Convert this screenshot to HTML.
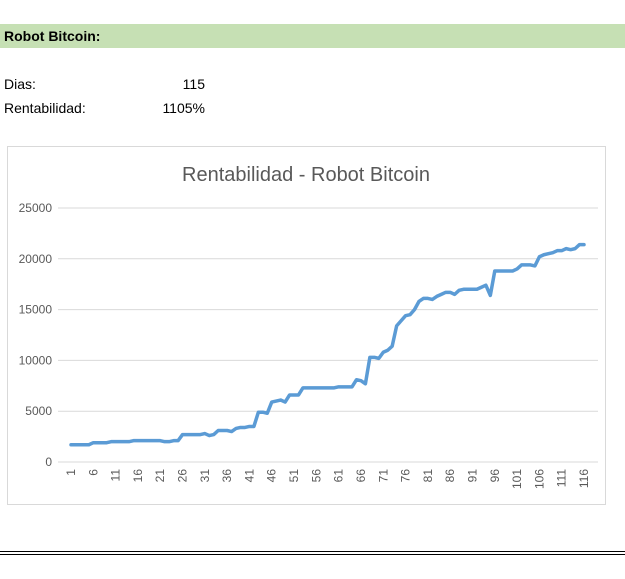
<!DOCTYPE html>
<html><head><meta charset="utf-8"><style>
body{margin:0;width:625px;height:579px;background:#fff;font-family:"Liberation Sans",sans-serif;position:relative;overflow:hidden}
.abs{position:absolute}
</style></head><body>
<div class="abs" style="left:0;top:24px;width:625px;height:24px;background:#c6e0b4"></div>
<div class="abs" style="left:4px;top:28px;font-size:14px;font-weight:bold;color:#000">Robot Bitcoin:</div>
<div class="abs" style="left:4px;top:76px;font-size:14px">Dias:</div>
<div class="abs" style="left:150px;width:55px;text-align:right;top:76px;font-size:14px">115</div>
<div class="abs" style="left:4px;top:100px;font-size:14px">Rentabilidad:</div>
<div class="abs" style="left:140px;width:65px;text-align:right;top:100px;font-size:14px">1105%</div>
<div class="abs" style="left:0;top:551px;width:625px;height:1px;background:#000"></div>
<div class="abs" style="left:0;top:554px;width:625px;height:1px;background:#000"></div>
<svg class="abs" style="left:0;top:0" width="625" height="579" id="chart">
<rect x="7.5" y="146.5" width="598" height="358" fill="#fff" stroke="#d9d9d9"/>
<text x="306" y="181" text-anchor="middle" font-size="20" fill="#595959" font-family="Liberation Sans, sans-serif">Rentabilidad - Robot Bitcoin</text>
</svg>
<script>
const values=[1700,1700,1700,1700,1700,1900,1900,1900,1900,2000,2000,2000,2000,2000,2100,2100,2100,2100,2100,2100,2100,2000,2000,2100,2100,2700,2700,2700,2700,2700,2800,2600,2700,3100,3100,3100,3000,3300,3400,3400,3500,3500,4900,4900,4800,5900,6000,6100,5900,6600,6600,6600,7300,7300,7300,7300,7300,7300,7300,7300,7400,7400,7400,7400,8100,8000,7700,10300,10300,10200,10800,11000,11400,13400,13900,14400,14500,15000,15800,16100,16100,16000,16300,16500,16700,16700,16500,16900,17000,17000,17000,17000,17200,17400,16400,18800,18800,18800,18800,18800,19000,19400,19400,19400,19300,20200,20400,20500,20600,20800,20800,21000,20900,21000,21400,21400];
const yTicks=[0,5000,10000,15000,20000,25000];
const svg=document.getElementById('chart');const NS='http://www.w3.org/2000/svg';
const x0=58,x1=598,y0=462,y1=208,ymax=25000,n=values.length;
const xs=i=>71+(584-71)*i/(n-1);
const ys=v=>y0-(y0-y1)*v/ymax;
yTicks.forEach(t=>{
 const l=document.createElementNS(NS,'line');
 
 
 l.setAttribute('x1',x0);l.setAttribute('x2',x1);l.setAttribute('y1',ys(t));l.setAttribute('y2',ys(t));
 l.setAttribute('stroke','#d9d9d9');svg.appendChild(l);
 const tx=document.createElementNS(NS,'text');
 
 
 tx.setAttribute('x',52);tx.setAttribute('y',ys(t)+4);tx.setAttribute('text-anchor','end');
 tx.setAttribute('font-size','12');tx.setAttribute('fill','#595959');tx.textContent=t;svg.appendChild(tx);
});
for(let i=0;i<n;i+=5){
 const tx=document.createElementNS(NS,'text');
 
 
 const x=xs(i);
 tx.setAttribute('transform','translate('+(x+4)+',469) rotate(-90)');
 tx.setAttribute('text-anchor','end');tx.setAttribute('font-size','12');tx.setAttribute('fill','#595959');
 tx.textContent=i+1;svg.appendChild(tx);
}
const p=document.createElementNS(NS,'polyline');


p.setAttribute('points',values.map((v,i)=>xs(i)+','+ys(v)).join(' '));
p.setAttribute('fill','none');p.setAttribute('stroke','#5b9bd5');p.setAttribute('stroke-width','3.5');p.setAttribute('stroke-linejoin','round');p.setAttribute('stroke-linecap','round');
svg.appendChild(p);
</script>
</body></html>
